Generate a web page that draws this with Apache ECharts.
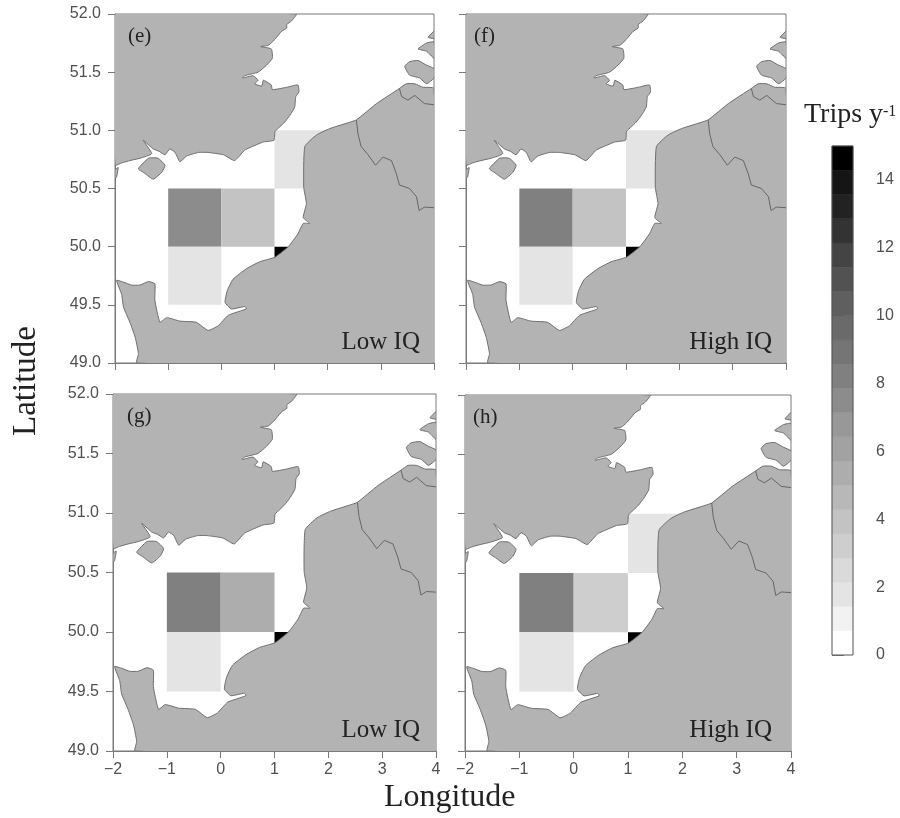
<!DOCTYPE html>
<html>
<head>
<meta charset="utf-8">
<style>html,body{margin:0;padding:0;background:#fff}#c{width:900px;height:818px}</style>
<script src="https://cdn.jsdelivr.net/npm/echarts@6/dist/echarts.min.js"></script>
</head>
<body>
<div id="c"></div>
<script>
// Panels
const panelNames = ['(e)', '(f)', '(g)', '(h)'];
const panelTags = ['Low IQ', 'High IQ', 'Low IQ', 'High IQ'];
// Cells: [west lon, south lat, trips per year]; cells span 1 deg lon x 0.5 deg lat
const cellsE = [[-1, 50, 7.4], [0, 50, 3.8], [-1, 49.5, 2.0], [1, 50.5, 2.0], [1, 49.5, 15]];
const cellsF = [[-1, 50, 7.9], [0, 50, 3.8], [-1, 49.5, 2.0], [1, 50.5, 2.0], [1, 49.5, 15]];
const cellsG = [[-1, 50, 7.9], [0, 50, 5.3], [-1, 49.5, 2.0], [1, 49.5, 15]];
const cellsH = [[-1, 50, 7.9], [0, 50, 3.4], [-1, 49.5, 2.0], [1, 50.5, 2.0], [1, 49.5, 15]];
const lonTicks = [-2, -1, 0, 1, 2, 3, 4];
const latTicks = [49, 49.5, 50, 50.5, 51, 51.5, 52];
const barTicks = [0, 2, 4, 6, 8, 10, 12, 14];
const barColors = ['#ffffff', '#f2f2f2', '#e4e4e4', '#dadada', '#cecece', '#c3c3c3', '#b8b8b8', '#adadad',
  '#a2a2a2', '#989898', '#8c8c8c', '#808080', '#757575', '#6a6a6a', '#5f5f5f', '#525252',
  '#444444', '#333333', '#222222', '#151515', '#000000'];

// Land outlines, lon/lat
const england = [[-2,52],[1.41,52],[1.32,51.94],[1.23,51.91],[1.23,51.88],[1.13,51.85],[1.04,51.80],[0.96,51.76],[0.88,51.73],[0.74,51.72],[0.94,51.70],[0.96,51.62],[0.85,51.56],[0.69,51.50],[0.44,51.47],[0.40,51.45],[0.60,51.47],[0.69,51.43],[0.63,51.40],[0.76,51.38],[0.79,51.43],[0.94,51.39],[0.96,51.35],[1.23,51.37],[1.44,51.39],[1.46,51.33],[1.40,51.29],[1.38,51.20],[1.29,51.13],[1.19,51.07],[1.10,51.03],[1.01,50.99],[0.99,50.915],[0.79,50.90],[0.63,50.87],[0.44,50.83],[0.25,50.74],[0.04,50.79],[-0.25,50.81],[-0.43,50.81],[-0.65,50.78],[-0.78,50.73],[-0.87,50.81],[-0.97,50.84],[-1.06,50.79],[-1.17,50.82],[-1.28,50.84],[-1.47,50.915],[-1.31,50.80],[-1.53,50.76],[-1.72,50.74],[-1.875,50.72],[-2,50.70]];
const wight = [[-1.56,50.67],[-1.37,50.76],[-1.19,50.76],[-1.06,50.70],[-1.12,50.64],[-1.28,50.58],[-1.44,50.63]];
const purbeck = [[-2,50.66],[-1.94,50.68],[-1.97,50.60],[-2,50.585]];
const continent = [[-1.59,49],[-1.56,49.08],[-1.62,49.22],[-1.72,49.35],[-1.84,49.48],[-1.875,49.59],[-1.97,49.71],[-1.84,49.695],[-1.69,49.67],[-1.53,49.67],[-1.37,49.70],[-1.25,49.68],[-1.25,49.54],[-1.155,49.35],[-1.03,49.39],[-0.78,49.36],[-0.47,49.35],[-0.25,49.28],[-0.06,49.32],[0.13,49.41],[0.47,49.465],[0.44,49.485],[0.19,49.465],[0.07,49.52],[0.11,49.62],[0.22,49.72],[0.47,49.81],[0.72,49.87],[1.01,49.91],[1.26,50.0],[1.44,50.11],[1.54,50.20],[1.66,50.20],[1.54,50.25],[1.60,50.37],[1.55,50.51],[1.57,50.86],[1.79,50.96],[2.04,51.015],[2.35,51.06],[2.54,51.09],[2.92,51.23],[3.35,51.36],[3.48,51.40],[3.64,51.40],[3.79,51.37],[4,51.36],[4,49]];
const walcheren = [[3.45,51.55],[3.54,51.59],[3.70,51.60],[3.86,51.56],[4,51.53],[4,51.45],[3.86,51.40],[3.73,51.45],[3.54,51.475]];
const schouwen = [[3.70,51.70],[3.86,51.75],[4,51.76],[4,51.62],[3.86,51.68]];
const goeree = [[3.89,51.80],[4,51.85],[4,51.79]];
const borderFrBe = [[2.54,51.09],[2.57,50.97],[2.63,50.86],[2.76,50.79],[2.90,50.70],[3.04,50.77],[3.20,50.74],[3.29,50.63],[3.35,50.53],[3.54,50.50],[3.67,50.43],[3.72,50.31],[3.82,50.34],[4,50.335]];
const borderBeNl = [[3.35,51.36],[3.39,51.29],[3.51,51.26],[3.64,51.30],[3.82,51.23],[4,51.22]];

const landShapes = [england, wight, purbeck, continent, walcheren, schouwen, goeree];
const borderLines = [borderFrBe, borderBeNl];
const panelCells = [cellsE, cellsF, cellsG, cellsH];

// Layout
const frames = [
  {left: 115, top: 14, width: 319, height: 349},
  {left: 466, top: 14, width: 320, height: 349},
  {left: 113, top: 394, width: 323, height: 357},
  {left: 465, top: 395, width: 326, height: 356}
];
const nameOffset = [13, 8, 14, 8];
const tagOffset = [14, 14, 16, 19];
const AX = '#7a7a7a', TXT = '#505050', SANS = '"Liberation Sans", Arial, sans-serif', SERIF = '"Liberation Serif", "Times New Roman", serif';

function colorFor(v) {
  const i = Math.min(barColors.length - 1, Math.floor(v / 15 * barColors.length));
  return barColors[i];
}
function fmtLon(v) { return v < 0 ? '\u2212' + Math.abs(v) : String(v); }

const grids = [], xAxes = [], yAxes = [], series = [], graphics = [];
frames.forEach((f, i) => {
  grids.push(Object.assign({show: true, borderColor: AX, borderWidth: 1, backgroundColor: 'transparent', containLabel: false}, f));
  xAxes.push({
    type: 'value', gridIndex: i, min: -2, max: 4, interval: 1, position: 'bottom',
    axisLine: {show: true, onZero: false, lineStyle: {color: AX}},
    axisTick: {show: true, length: 7, lineStyle: {color: AX}},
    splitLine: {show: false},
    axisLabel: {show: i >= 2, formatter: fmtLon, color: TXT, fontFamily: SANS, fontSize: 16, margin: 11,
      customValues: lonTicks}
  });
  yAxes.push({
    type: 'value', gridIndex: i, min: 49, max: 52, interval: 0.5, position: 'left',
    axisLine: {show: true, onZero: false, lineStyle: {color: AX}},
    axisTick: {show: true, length: 7, lineStyle: {color: AX}},
    splitLine: {show: false},
    axisLabel: {show: i % 2 === 0, formatter: v => v.toFixed(1), color: TXT, fontFamily: SANS, fontSize: 16, margin: 14,
      customValues: latTicks}
  });
  series.push({
    type: 'custom', name: 'cells' + i, xAxisIndex: i, yAxisIndex: i, clip: true, silent: true, z: 2,
    data: panelCells[i],
    encode: {x: 0, y: 1},
    renderItem: (params, api) => {
      const lon = api.value(0), lat = api.value(1), val = api.value(2);
      const a = api.coord([lon, lat + 0.5]), b = api.coord([lon + 1, lat]);
      return {type: 'rect', shape: {x: a[0], y: a[1], width: b[0] - a[0], height: b[1] - a[1]},
        style: {fill: colorFor(val)}};
    }
  });
  series.push({
    type: 'custom', name: 'land' + i, xAxisIndex: i, yAxisIndex: i, clip: true, silent: true, z: 3,
    data: landShapes.map((s, k) => [s[0][0], s[0][1], k]),
    encode: {x: 0, y: 1},
    renderItem: (params, api) => {
      const pts = landShapes[api.value(2)].map(p => api.coord(p));
      return {type: 'polygon', shape: {points: pts, smooth: 0.15}, style: {fill: '#b3b3b3', stroke: '#6e6e6e', lineWidth: 1}};
    }
  });
  series.push({
    type: 'custom', name: 'borders' + i, xAxisIndex: i, yAxisIndex: i, clip: true, silent: true, z: 4,
    data: borderLines.map((s, k) => [s[0][0], s[0][1], k]),
    encode: {x: 0, y: 1},
    renderItem: (params, api) => {
      const pts = borderLines[api.value(2)].map(p => api.coord(p));
      return {type: 'polyline', shape: {points: pts}, style: {fill: 'none', stroke: '#666666', lineWidth: 1}};
    }
  });
  graphics.push({type: 'text', z: 10, left: f.left + nameOffset[i], top: f.top + 12,
    style: {text: panelNames[i], font: '21px ' + SERIF, fill: '#222'}});
  graphics.push({type: 'text', z: 10, right: 900 - (f.left + f.width) + tagOffset[i], top: f.top + f.height - 33,
    style: {text: panelTags[i], font: '25px ' + SERIF, fill: '#222'}});
});

// Colour bar
const bi = frames.length;
grids.push({left: 832, top: 146, width: 21, height: 509, show: false});
xAxes.push({type: 'value', gridIndex: bi, min: 0, max: 1, show: false});
yAxes.push({
  type: 'value', gridIndex: bi, min: 0, max: 15, position: 'right',
  axisLine: {show: false},
  axisTick: {show: true, length: 12, lineStyle: {color: '#555'}, customValues: barTicks},
  splitLine: {show: false},
  axisLabel: {color: TXT, fontFamily: SANS, fontSize: 16, margin: 23, customValues: barTicks}
});
series.push({
  type: 'custom', name: 'bar', xAxisIndex: bi, yAxisIndex: bi, silent: true, z: 2,
  data: barColors.map((c, k) => [0, k]),
  encode: {x: 0, y: 1},
  renderItem: (params, api) => {
    const k = api.value(1), n = barColors.length;
    const a = api.coord([0, (k + 1) * 15 / n]), b = api.coord([1, k * 15 / n]);
    return {type: 'rect', shape: {x: a[0], y: a[1], width: b[0] - a[0], height: b[1] - a[1]},
      style: {fill: barColors[k], stroke: barColors[k], lineWidth: 0.5}};
  }
});
series.push({
  type: 'custom', name: 'barFrame', xAxisIndex: bi, yAxisIndex: bi, silent: true, z: 3,
  data: [[0, 0]],
  encode: {x: 0, y: 1},
  renderItem: (params, api) => {
    const a = api.coord([0, 15]), b = api.coord([1, 0]);
    return {type: 'rect', shape: {x: a[0], y: a[1], width: b[0] - a[0], height: b[1] - a[1]},
      style: {fill: 'none', stroke: '#555', lineWidth: 1}};
  }
});

// Titles
graphics.push({type: 'text', left: 384, top: 782, style: {text: 'Longitude', font: '32px ' + SERIF, fill: '#222'}});
graphics.push({type: 'text', rotation: Math.PI / 2, x: 26, y: 381,
  style: {text: 'Latitude', font: '33px ' + SERIF, fill: '#222', align: 'center', verticalAlign: 'middle'}});
graphics.push({type: 'text', left: 804, top: 101, style: {text: 'Trips y', font: '28px ' + SERIF, fill: '#222'}});
graphics.push({type: 'text', left: 883, top: 104, style: {text: '-1', font: '16px ' + SERIF, fill: '#222'}});

const chart = echarts.init(document.getElementById('c'), null, {renderer: 'canvas'});
chart.setOption({
  animation: false, backgroundColor: '#ffffff',
  grid: grids, xAxis: xAxes, yAxis: yAxes, series: series, graphic: graphics
});
</script>
</body>
</html>
